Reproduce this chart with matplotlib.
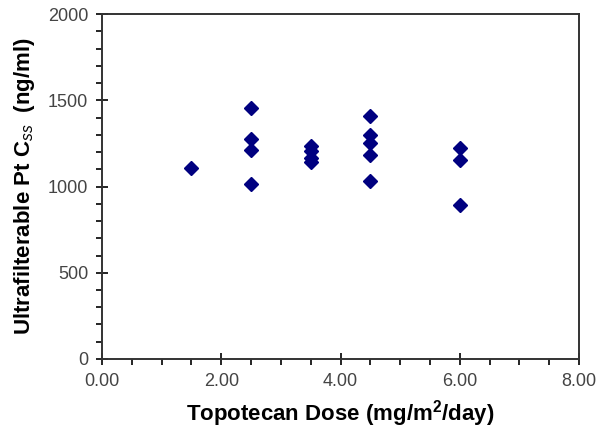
import numpy as np
import matplotlib.pyplot as plt
from matplotlib.ticker import MultipleLocator, FormatStrFormatter

plt.rcParams['font.family'] = ['Liberation Sans', 'DejaVu Sans']
plt.rcParams['mathtext.fontset'] = 'custom'
plt.rcParams['mathtext.rm'] = 'Liberation Sans:bold'
plt.rcParams['mathtext.it'] = 'Liberation Sans:italic'
plt.rcParams['mathtext.bf'] = 'Liberation Sans:bold'

# dosis (mg/m2/day) y Css ultrafiltrable (ng/ml)
dosis = [1.5,
         2.5, 2.5, 2.5, 2.5,
         3.5, 3.5, 3.5, 3.5,
         4.5, 4.5, 4.5, 4.5, 4.5,
         6.0, 6.0, 6.0]
css = [1105,
       1453, 1274, 1212, 1013,
       1237, 1208, 1163, 1144,
       1409, 1299, 1250, 1183, 1034,
       1221, 1154, 894]

fig = plt.figure(figsize=(6, 4.41), dpi=100)
ax = fig.add_axes([0.17, 0.186, 0.795, 0.782])

ax.plot(dosis, css, linestyle='none', marker='D', markersize=7,
        color='#000080', markeredgecolor='#000080')

ax.set_xlim(0, 8)
ax.set_ylim(0, 2000)
ax.xaxis.set_major_locator(MultipleLocator(2))
ax.xaxis.set_minor_locator(MultipleLocator(0.5))
ax.yaxis.set_major_locator(MultipleLocator(500))
ax.yaxis.set_minor_locator(MultipleLocator(100))
ax.xaxis.set_major_formatter(FormatStrFormatter('%.2f'))

ax.tick_params(which='major', direction='inout', length=8, width=1.2,
               labelsize=13, labelcolor='#444444', pad=6)
ax.tick_params(which='minor', direction='out', length=4, width=1.2)

for s in ax.spines.values():
    s.set_linewidth(1.4)
    s.set_color('#333333')

ax.set_xlabel('Topotecan Dose (mg/m$^{2}$/day)', fontsize=16, fontweight='bold', labelpad=6)
ax.set_ylabel(r'Ultrafilterable Pt C$_{\mathit{ss}}$  (ng/ml)', fontsize=16, fontweight='bold', labelpad=8)

plt.savefig('out.png', dpi=100)
